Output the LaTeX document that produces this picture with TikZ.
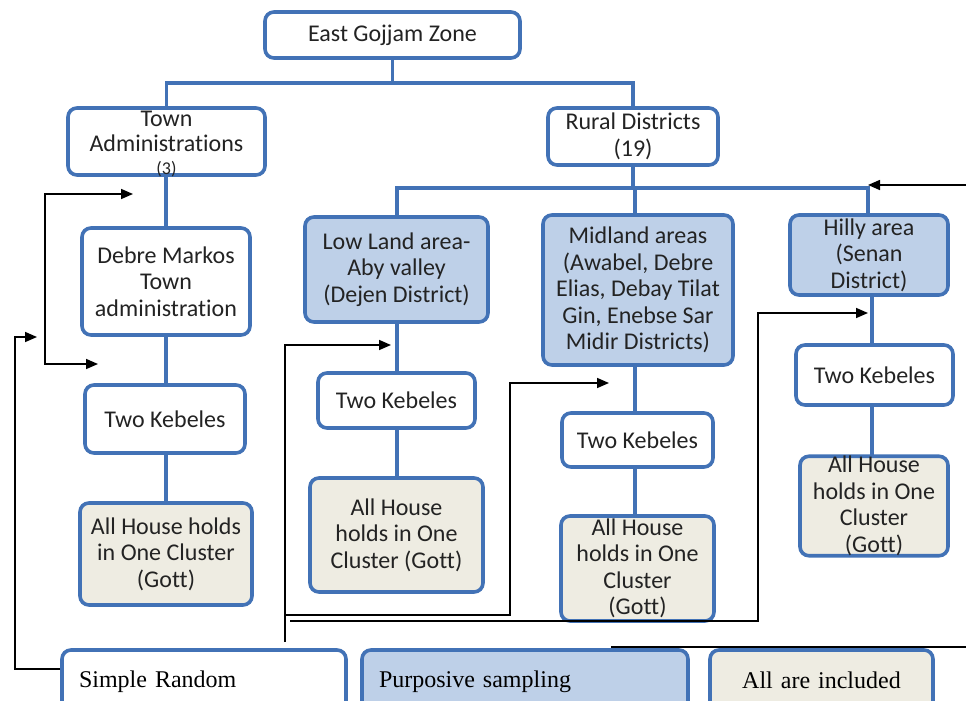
\documentclass[tikz,border=0pt]{standalone}
\usepackage{fontspec}
\setmainfont[Ligatures=NoCommon]{Carlito}
\newfontfamily\legendfont{Liberation Serif}
\usetikzlibrary{arrows.meta}
\definecolor{bblue}{RGB}{66,114,182}
\definecolor{lblue}{RGB}{190,208,232}
\definecolor{beige}{RGB}{238,236,226}
\definecolor{txt}{RGB}{35,35,35}
\begin{document}
\begin{tikzpicture}[x=1pt,y=-1pt,
  box/.style={draw=bblue,line width=3.6pt,rounded corners=9pt,fill=white,align=center,
    inner sep=0pt,text=txt,font=\fontsize{24}{26.5}\selectfont},
  bluebox/.style={box,fill=lblue},
  beigebox/.style={box,fill=beige},
  legbox/.style={box,font=\legendfont\fontsize{24}{26}\selectfont,text=black},
  conn/.style={draw=bblue,line width=3.6pt},
  blk/.style={draw=black,line width=1.6pt},
  tip/.style={-{Triangle[length=12pt,width=10pt]}}
]
\useasboundingbox (0,0) rectangle (966,701);
\clip (0,0) rectangle (966,701);
\fill[white] (0,0) rectangle (966,701);

% tree connectors
\draw[conn] (392.5,58) -- (392.5,83);
\draw[conn] (166.5,108) |- (633,83) -- (633,108);
\draw[conn] (166,175) -- (166,228);
\draw[conn] (166,335) -- (166,385);
\draw[conn] (166,453) -- (166,503);
\draw[conn] (633,165) -- (633,188);
\draw[conn] (397,217) |- (868,188) -- (868,215);
\draw[conn] (635,188) -- (635,215);
\draw[conn] (397,322) -- (397,373);
\draw[conn] (397,428) -- (397,478);
\draw[conn] (635,365) -- (635,413);
\draw[conn] (635,467) -- (635,516);
\draw[conn] (872,295) -- (872,345);
\draw[conn] (872,405) -- (872,457);

% nodes
\node[box,minimum width=255pt,minimum height=46pt] (top) at (392.5,35) {East Gojjam Zone};
\node[box,minimum width=197pt,minimum height=67pt] (town) at (166.5,141.5)
  {\raisebox{-10pt}[0pt][0pt]{\begin{tabular}{@{}c@{}}Town\\[-1.5pt]Administrations\\[-3pt]{\fontsize{18}{18}\selectfont(3)}\end{tabular}}};
\node[box,minimum width=170pt,minimum height=57pt] (rural) at (633,136.5) {Rural Districts\\[1pt](19)};
\node[box,minimum width=168pt,minimum height=107pt] (debre) at (166,281.5) {Debre Markos\\Town\\administration};
\node[box,minimum width=160pt,minimum height=68pt] (tk1) at (165,419) {Two Kebeles};
\node[beigebox,minimum width=172pt,minimum height=102pt] (ah1) at (166,554) {All House holds\\in One Cluster\\(Gott)};
\node[bluebox,minimum width=183pt,minimum height=105pt] (low) at (396.5,269.5) {Low Land area-\\Aby valley\\(Dejen District)};
\node[box,minimum width=157pt,minimum height=55pt] (tk2) at (396.5,400.5) {Two Kebeles};
\node[beigebox,minimum width=173pt,minimum height=114pt] (ah2) at (396.5,535) {All House\\holds in One\\Cluster (Gott)};
\node[bluebox,minimum width=190pt,minimum height=150pt] (mid) at (638,290) {Midland areas\\(Awabel, Debre\\Elias, Debay Tilat\\Gin, Enebse Sar\\Midir Districts)};
\node[box,minimum width=151pt,minimum height=54pt] (tk3) at (637.5,440) {Two Kebeles};
\node[beigebox,minimum width=153pt,minimum height=105pt] (ah3) at (637.5,568.5) {All House\\holds in One\\Cluster\\(Gott)};
\node[bluebox,minimum width=158pt,minimum height=80pt] (hilly) at (869,255) {Hilly area\\(Senan\\District)};
\node[box,minimum width=157pt,minimum height=60pt] (tk4) at (874.5,375) {Two Kebeles};
\node[beigebox,minimum width=148pt,minimum height=98pt] (ah4) at (874,506) {All House\\holds in One\\Cluster\\(Gott)};

% legend
\node[legbox,minimum width=284pt,minimum height=64pt,text width=250pt,align=left] (sr) at (204,682) {Simple Random};
\node[legbox,fill=lblue,minimum width=326pt,minimum height=64pt,text width=292pt,align=left] (pur) at (525,682) {Purposive sampling};
\node[legbox,fill=beige,minimum width=223pt,minimum height=64pt,text width=200pt] (all) at (821.5,682) {\raisebox{4pt}{All are included}};

% black arrows
\coordinate (a1) at (37,337);
\coordinate (a2a) at (133,194);
\coordinate (a2b) at (98,364);
\coordinate (a3) at (391,345);
\coordinate (a4) at (609,383);
\coordinate (a5) at (868,313);
\coordinate (a6s) at (966,185);
\coordinate (a6) at (868,185);
\coordinate (l4s) at (285,615);
\coordinate (l5s) at (290,621);
\coordinate (l6s) at (611,647);
\coordinate (l6e) at (966,647);
\coordinate (l3s) at (285,642);

\draw[blk,tip] ([yshift=13pt]sr.west) -| (15,337) -- (a1);
\draw[blk,{Triangle[length=12pt,width=10pt]}-{Triangle[length=12pt,width=10pt]}] (a2a) -| (45,364) -- (a2b);
\draw[blk,tip] (l3s) |- (a3);
\draw[blk,tip] (l4s) -| (510,383) -- (a4);
\draw[blk,tip] (l5s) -| (758,313) -- (a5);
\draw[blk] (l6s) -- (l6e);
\draw[blk,tip] (a6s) -- (a6);
\end{tikzpicture}
\end{document}
